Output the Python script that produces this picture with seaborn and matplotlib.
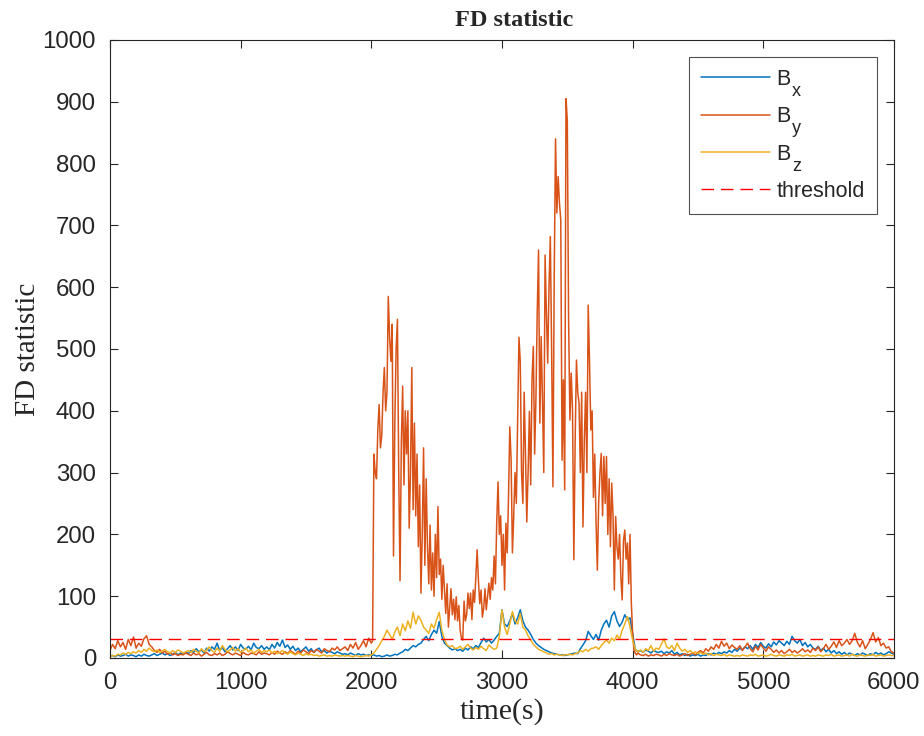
import numpy as np
import pandas as pd
import matplotlib
matplotlib.use("Agg")
import matplotlib.pyplot as plt
import seaborn as sns

# time axis: one sample every 20 s from 0 to 6000 s
time_s = list(range(0, 6001, 20))

bx = [
    3, 4, 2, 5, 3, 4, 6, 3, 5, 4, 2, 5, 3, 6, 4, 3, 5, 7, 4, 6, 8, 5, 7, 4, 6, 9, 5, 8, 6, 10,
    7, 12, 9, 15, 10, 13, 8, 16, 11, 18, 14, 24, 12, 17, 10, 15, 20, 13, 18, 12, 22, 16, 14, 19, 13, 24, 17, 15, 20, 14,
    18, 13, 22, 16, 25, 19, 29, 17, 21, 14, 19, 12, 16, 10, 14, 18, 11, 15, 9, 13, 16, 10, 12, 8, 11, 9, 7, 10, 8, 6,
    7, 5, 8, 6, 4, 7, 5, 6, 4, 5, 4, 5, 3, 4, 2, 3, 5, 3, 4, 6, 5, 8, 10, 14, 12, 16, 20, 18, 22, 24,
    30, 35, 28, 38, 45, 40, 59, 35, 24, 20, 16, 13, 15, 12, 14, 11, 16, 13, 18, 15, 20, 17, 25, 32, 26, 30, 24, 29, 35, 40,
    78, 55, 51, 60, 72, 55, 65, 78, 60, 50, 45, 38, 30, 24, 20, 17, 14, 12, 10, 8, 7, 6, 5, 5, 4, 5, 6, 7, 8, 7,
    15, 21, 28, 43, 36, 30, 38, 29, 45, 55, 61, 50, 68, 75, 60, 51, 58, 70, 62, 65, 40, 14, 10, 12, 9, 13, 11, 8, 12, 10,
    9, 11, 7, 10, 8, 12, 6, 9, 5, 7, 4, 6, 3, 5, 4, 6, 3, 5, 4, 7, 5, 8, 6, 9, 7, 10, 8, 12, 9, 14,
    11, 16, 13, 18, 15, 20, 14, 22, 17, 25, 19, 16, 23, 18, 26, 21, 28, 24, 20, 27, 22, 35, 28, 24, 30, 20, 25, 18, 22, 16,
    14, 19, 12, 16, 10, 14, 8, 12, 7, 10, 6, 9, 5, 8, 6, 4, 7, 5, 8, 6, 4, 7, 5, 9, 6, 8, 5, 7, 10, 8,
    6,
]

bz = [
    2, 4, 3, 6, 5, 8, 6, 9, 7, 10, 8, 12, 9, 14, 11, 16, 12, 10, 13, 9, 11, 14, 10, 8, 12, 9, 13, 11, 8, 10,
    12, 9, 14, 11, 8, 15, 10, 13, 18, 12, 9, 16, 11, 20, 14, 10, 13, 17, 11, 15, 9, 12, 16, 10, 13, 8, 11, 14, 9, 12,
    10, 13, 8, 11, 7, 9, 12, 8, 6, 10, 7, 5, 8, 6, 4, 7, 5, 6, 4, 5, 3, 4, 5, 3, 4, 3, 5, 4, 3, 4,
    3, 4, 3, 2, 4, 3, 2, 3, 4, 3, 5, 8, 14, 20, 28, 35, 45, 38, 30, 42, 50, 36, 55, 44, 60, 48, 74, 55, 68, 61,
    50, 45, 40, 55, 48, 62, 74, 45, 30, 21, 18, 20, 15, 16, 19, 14, 18, 22, 16, 13, 17, 14, 19, 15, 12, 21, 17, 14, 16, 35,
    78, 50, 38, 55, 75, 60, 55, 72, 50, 45, 36, 29, 22, 18, 14, 12, 10, 8, 6, 7, 5, 6, 5, 4, 5, 5, 6, 5, 7, 8,
    12, 10, 14, 11, 15, 16, 18, 14, 20, 25, 29, 24, 32, 28, 37, 30, 45, 55, 67, 50, 29, 14, 10, 13, 9, 15, 12, 20, 11, 16,
    14, 22, 31, 18, 15, 20, 12, 24, 16, 11, 14, 9, 12, 8, 10, 7, 9, 6, 8, 5, 7, 4, 6, 5, 4, 6, 3, 5, 4, 3,
    4, 3, 5, 4, 3, 5, 4, 6, 3, 4, 5, 3, 4, 6, 4, 3, 5, 4, 3, 5, 4, 6, 3, 4, 5, 3, 4, 5, 3, 4,
    3, 5, 4, 3, 5, 4, 6, 3, 4, 5, 3, 4, 5, 3, 6, 4, 3, 5, 4, 3, 5, 4, 6, 3, 4, 5, 3, 4, 5, 4,
    4,
]

# By is finer (10 s) during the fault interval 2000-4030 s
by_time = list(range(0, 2000, 20)) + list(range(2000, 4040, 10)) + list(range(4040, 6001, 20))

by_quiet_start = [
    12, 22, 15, 28, 18, 25, 14, 30, 20, 34, 16, 24, 19, 31, 36, 22, 18, 12, 9, 14, 8, 11, 6, 9, 5, 7, 4, 6, 5, 8,
    6, 4, 8, 5, 7, 3, 6, 9, 5, 4, 7, 5, 8, 4, 6, 10, 7, 5, 8, 6, 4, 9, 6, 5, 8, 7, 5, 10, 6, 8,
    7, 5, 9, 6, 11, 8, 6, 10, 7, 12, 9, 6, 11, 8, 13, 10, 7, 12, 9, 14, 11, 8, 15, 12, 10, 16, 13, 18, 12, 15,
    18, 12, 22, 16, 25, 14, 20, 28, 18, 32,
]

by_active = [
    24, 28, 330, 300, 290, 370, 410, 340, 360, 430, 470, 400, 430, 585, 520, 480, 540, 165, 380, 500,
    548, 300, 125, 350, 440, 280, 400, 330, 400, 210,
    300, 470, 240, 380, 230, 330, 180, 280, 105, 200, 340, 150, 290, 180, 120, 215, 110, 170, 100, 200,
    130, 245, 135, 160, 95, 150, 110, 72, 120, 50,
    80, 112, 70, 95, 62, 99, 60, 85, 45, 32, 29, 92, 60, 70, 105, 80, 105, 62, 110, 90,
    130, 175, 125, 88, 110, 66, 80, 112, 78, 100,
    121, 95, 130, 110, 165, 120, 220, 285, 200, 230, 150, 200, 110, 218, 170, 260, 374, 320, 170, 230,
    300, 250, 380, 519, 480, 300, 250, 430, 330, 220,
    300, 399, 280, 450, 504, 330, 420, 560, 660, 380, 520, 417, 300, 652, 560, 477, 600, 682, 500, 277,
    620, 840, 720, 779, 736, 709, 320, 450, 272, 905,
    870, 547, 385, 461, 400, 159, 350, 482, 430, 412, 300, 430, 212, 350, 430, 300, 571, 480, 369, 400,
    260, 330, 220, 142, 250, 300, 331, 230, 326, 250,
    326, 200, 290, 180, 283, 230, 110, 229, 180, 160, 200, 130, 94, 190, 207, 160, 186, 120, 200, 89,
    40, 13, 8, 5,
]

by_quiet_end = [
    8, 5, 4, 6, 3, 5, 4, 6,
    5, 3, 6, 4, 7, 5, 4, 6, 3, 5, 7, 4, 6, 8, 5, 9, 12, 8, 15, 11, 18, 14, 22, 16, 27, 19, 24, 15, 21, 17,
    14, 20, 12, 18, 24, 15, 10, 19, 13, 22, 16, 11, 18, 14, 9, 13, 8, 12, 7, 10, 14, 9, 12, 8, 11, 15, 10, 13, 9, 16,
    12, 18, 10, 15, 22, 14, 19, 26, 17, 28, 20, 24, 30, 22, 28, 40, 25, 18, 28, 15, 22, 30, 41, 26, 33, 20, 24, 16, 18, 10,
    8,
]
by = by_quiet_start + by_active + by_quiet_end

threshold = 30
series_base = ["B", "B", "B"]
series_subs = ["x", "y", "z"]
series_colors = ["#0072BD", "#D95319", "#EDB120"]
x_ticks = [0, 1000, 2000, 3000, 4000, 5000, 6000]
y_ticks = list(range(0, 1001, 100))

sns.set_theme(style="ticks")
plt.rcParams["font.family"] = ["Liberation Sans", "DejaVu Sans"]

fig = plt.figure(figsize=(9.24, 7.36), dpi=100)
ax = fig.add_axes([0.119, 0.106, 0.8485, 0.8397])

series = [(time_s, bx), (by_time, by), (time_s, bz)]
for (tt, vals), lab, col in zip(series, series_base, series_colors):
    df = pd.DataFrame({"t": tt, "v": vals})
    sns.lineplot(data=df, x="t", y="v", ax=ax, color=col, linewidth=1.1, label=lab)

ax.axhline(threshold, color="#FF0000", linestyle=(0, (9, 5)), linewidth=1.0, label="threshold")

ax.set_xlim(0, 6000)
ax.set_ylim(0, 1000)
ax.set_xticks(x_ticks)
ax.set_yticks(y_ticks)
ax.tick_params(direction="in", top=True, right=True, labelsize=17.3, length=6,
               width=0.8, colors="#262626", labelcolor="#262626", pad=10)
for sp in ax.spines.values():
    sp.set_visible(True)
    sp.set_color("#262626")
    sp.set_linewidth(0.8)

ax.set_title("FD statistic", family="Liberation Serif", fontweight="bold", fontsize=17.5,
             pad=10, x=0.515)
ax.set_xlabel("time(s)", family="Liberation Serif", fontsize=21.5, labelpad=3)
ax.set_ylabel("FD statistic", family="Liberation Serif", fontsize=21, labelpad=1)

leg = ax.legend(loc="upper right", bbox_to_anchor=(0.978, 0.9725), borderaxespad=0,
                fontsize=15.5, frameon=True, fancybox=False, edgecolor="#262626",
                handlelength=3.2, borderpad=0.55, labelspacing=0.76, handletextpad=0.3)
leg.get_frame().set_linewidth(0.8)

# lowered subscripts after the "B" of each legend entry
fig.canvas.draw()
renderer = fig.canvas.get_renderer()
inv = fig.transFigure.inverted()
for txt, sub in zip(leg.get_texts()[:3], series_subs):
    bb = txt.get_window_extent(renderer)
    x_fig, y_fig = inv.transform((bb.x1 + 1, bb.y0 - 6))
    fig.text(x_fig, y_fig, sub, fontsize=13, color="#262626", va="baseline", ha="left")

fig.savefig("out.png", dpi=100)
